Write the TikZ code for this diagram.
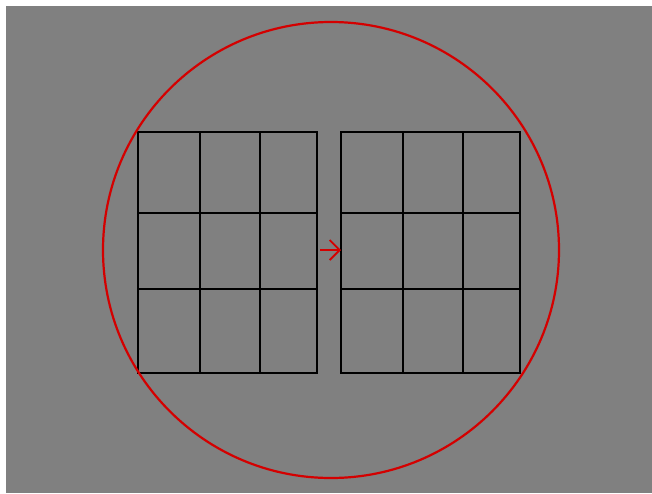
\documentclass[tikz,border=0pt]{standalone}
\usetikzlibrary{arrows.meta}
\definecolor{bg}{HTML}{808080}
\definecolor{redc}{HTML}{D40000}
\begin{document}
\begin{tikzpicture}[x=1pt,y=-1pt,
  gridline/.style={black,line width=1.8pt},
  ring/.style={redc,line width=2.2pt},
  arr/.style={redc,line width=1.8pt,-{Straight Barb[length=10pt,width=20pt]}}]
\useasboundingbox (0,0) rectangle (652,493);
\fill[white] (0,0) rectangle (652,493);
\fill[bg] (6,6) rectangle (652,493);
% left grid
\draw[gridline] (138,132) rectangle (317,373);
\draw[gridline] (200,132) -- (200,373) (260,132) -- (260,373);
\draw[gridline] (138,213) -- (317,213) (138,289) -- (317,289);
% right grid
\draw[gridline] (341,132) rectangle (520,373);
\draw[gridline] (403,132) -- (403,373) (463,132) -- (463,373);
\draw[gridline] (341,213) -- (520,213) (341,289) -- (520,289);
% circle
\node[ring,draw,circle,minimum size=456pt,inner sep=0pt] (c) at (331,250) {};
% arrow
\coordinate (a) at (320,250);
\coordinate (b) at (341,250);
\draw[arr] (a) -- (b);
\end{tikzpicture}
\end{document}
